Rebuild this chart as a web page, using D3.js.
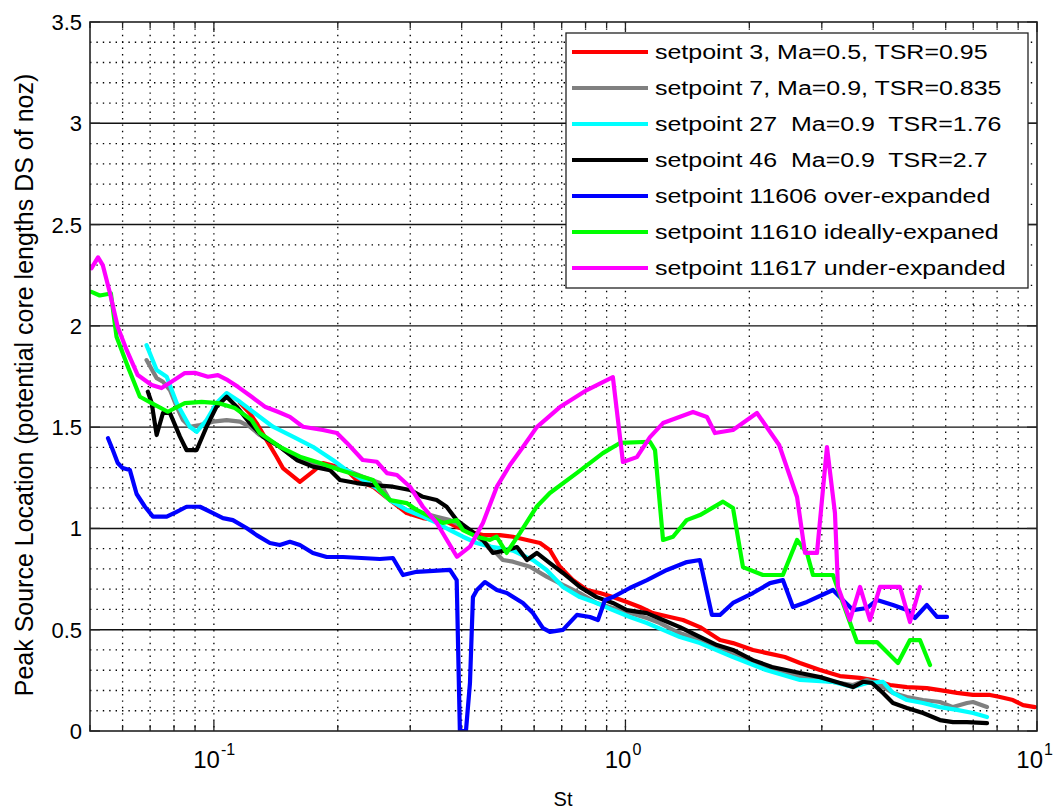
<!DOCTYPE html>
<html>
<head>
<meta charset="utf-8">
<script src="https://cdn.jsdelivr.net/npm/d3@7"></script>
<style>
  body { margin: 0; background: #fff; }
  svg { display: block; }
  text { font-family: "Liberation Sans", Arial, Helvetica, sans-serif; fill: #000; white-space: pre; }
</style>
</head>
<body>
<script>
var w = 1054;
var h = 811;
var plotL = 90, plotT = 22, plotR = 1037, plotB = 731;

// legend text and colours, in legend order
var legendLabels = [
  "setpoint 3, Ma=0.5, TSR=0.95",
  "setpoint 7, Ma=0.9, TSR=0.835",
  "setpoint 27  Ma=0.9  TSR=1.76",
  "setpoint 46  Ma=0.9  TSR=2.7",
  "setpoint 11606 over-expanded",
  "setpoint 11610 ideally-expaned",
  "setpoint 11617 under-expanded"
];
var colors = ["#ff0000", "#808080", "#00ffff", "#000000", "#0000ff", "#00ff00", "#ff00ff"];

// [St, peak source location]
var sp3 = [[0.1157,1.62],[0.1223,1.568],[0.127,1.52],[0.1343,1.436],[0.142,1.354],[0.1471,1.298],[0.1618,1.23],[0.174,1.28],[0.184,1.323],[0.1986,1.305],[0.2102,1.288],[0.2222,1.239],[0.2435,1.206],[0.2677,1.14],[0.294,1.076],[0.322,1.051],[0.3477,1.041],[0.3677,1.033],[0.389,1.008],[0.419,0.984],[0.4505,0.967],[0.495,0.967],[0.5329,0.959],[0.5763,0.943],[0.62,0.928],[0.6553,0.893],[0.693,0.811],[0.745,0.745],[0.806,0.696],[0.867,0.681],[0.932,0.661],[1.008,0.637],[1.084,0.612],[1.166,0.582],[1.282,0.563],[1.38,0.548],[1.517,0.513],[1.697,0.449],[1.825,0.434],[2.041,0.4],[2.44,0.365],[2.655,0.336],[2.97,0.301],[3.32,0.271],[3.71,0.262],[3.996,0.252],[4.395,0.227],[4.831,0.217],[5.4,0.212],[5.81,0.202],[6.39,0.188],[6.99,0.178],[7.69,0.178],[8.13,0.168],[8.74,0.153],[9.25,0.128],[9.89,0.118]];
var sp7 = [[0.0686,1.831],[0.0726,1.742],[0.0752,1.724],[0.0782,1.683],[0.0812,1.601],[0.0841,1.535],[0.0874,1.502],[0.0925,1.51],[0.0995,1.527],[0.1074,1.535],[0.1157,1.527],[0.1223,1.502],[0.1293,1.461],[0.1446,1.403],[0.1556,1.354],[0.174,1.323],[0.1914,1.305],[0.2102,1.288],[0.23,1.255],[0.253,1.224],[0.2677,1.14],[0.294,1.091],[0.322,1.076],[0.3477,1.058],[0.3746,1.041],[0.4029,1.008],[0.435,0.959],[0.4686,0.91],[0.5038,0.844],[0.5329,0.836],[0.586,0.811],[0.6433,0.762],[0.7049,0.721],[0.775,0.681],[0.851,0.632],[0.932,0.607],[1.025,0.582],[1.127,0.558],[1.213,0.533],[1.334,0.489],[1.517,0.449],[1.825,0.385],[2.195,0.316],[2.655,0.266],[3.193,0.242],[3.572,0.227],[3.863,0.252],[4.225,0.217],[4.467,0.188],[4.831,0.168],[5.284,0.153],[5.81,0.143],[6.25,0.118],[6.76,0.138],[6.99,0.143],[7.56,0.118]];
var sp27 = [[0.0686,1.905],[0.0726,1.782],[0.0768,1.749],[0.0812,1.619],[0.0874,1.502],[0.0908,1.477],[0.096,1.535],[0.1015,1.619],[0.1074,1.668],[0.1157,1.625],[0.1244,1.576],[0.1391,1.502],[0.1556,1.453],[0.174,1.403],[0.1946,1.338],[0.2102,1.288],[0.23,1.239],[0.249,1.199],[0.2677,1.14],[0.294,1.091],[0.322,1.058],[0.3477,1.027],[0.3746,0.992],[0.4029,0.959],[0.435,0.928],[0.4686,0.91],[0.5038,0.9],[0.5329,0.89],[0.5961,0.844],[0.6433,0.795],[0.7049,0.711],[0.775,0.661],[0.851,0.632],[0.932,0.597],[1.025,0.563],[1.127,0.533],[1.234,0.499],[1.356,0.464],[1.517,0.434],[1.825,0.365],[2.195,0.301],[2.655,0.252],[3.193,0.242],[3.572,0.217],[3.863,0.237],[4.225,0.243],[4.467,0.188],[4.831,0.153],[5.284,0.138],[5.81,0.118],[6.39,0.104],[6.99,0.089],[7.56,0.069]];
var sp46 = [[0.0691,1.675],[0.0706,1.619],[0.0726,1.461],[0.0752,1.57],[0.0782,1.57],[0.0827,1.453],[0.0858,1.387],[0.0908,1.387],[0.096,1.502],[0.1015,1.601],[0.1074,1.65],[0.1136,1.601],[0.1223,1.52],[0.1316,1.453],[0.1446,1.403],[0.1589,1.338],[0.174,1.305],[0.1914,1.288],[0.2024,1.239],[0.2222,1.224],[0.2435,1.214],[0.2723,1.206],[0.2995,1.19],[0.322,1.156],[0.3477,1.14],[0.3677,1.107],[0.389,1.041],[0.419,0.992],[0.4505,0.943],[0.4764,0.879],[0.515,0.893],[0.545,0.908],[0.5763,0.844],[0.609,0.879],[0.6553,0.829],[0.7049,0.78],[0.775,0.711],[0.851,0.661],[0.932,0.632],[1.008,0.597],[1.127,0.582],[1.234,0.548],[1.356,0.513],[1.517,0.464],[1.669,0.424],[1.825,0.4],[2.041,0.35],[2.27,0.316],[2.655,0.286],[2.97,0.266],[3.32,0.237],[3.572,0.217],[3.776,0.243],[3.972,0.237],[4.225,0.188],[4.467,0.138],[4.831,0.114],[5.284,0.089],[5.81,0.054],[6.25,0.044],[6.76,0.044],[7.56,0.039]];
var sp11606 = [[0.0553,1.445],[0.0568,1.387],[0.0584,1.323],[0.06,1.298],[0.0625,1.288],[0.0649,1.17],[0.068,1.107],[0.0711,1.058],[0.0768,1.058],[0.0812,1.082],[0.0858,1.107],[0.0925,1.107],[0.0995,1.076],[0.1052,1.051],[0.1112,1.041],[0.12,1.002],[0.127,0.967],[0.1368,0.928],[0.1446,0.918],[0.153,0.934],[0.1618,0.918],[0.174,0.879],[0.188,0.859],[0.206,0.859],[0.253,0.849],[0.2723,0.854],[0.288,0.77],[0.311,0.786],[0.3746,0.795],[0.389,0.745],[0.396,0],[0.4097,0],[0.419,0.237],[0.426,0.661],[0.4356,0.696],[0.4555,0.735],[0.487,0.696],[0.515,0.681],[0.5635,0.632],[0.5961,0.582],[0.6303,0.508],[0.6553,0.489],[0.7049,0.499],[0.7624,0.573],[0.8198,0.563],[0.8574,0.548],[0.8918,0.647],[0.932,0.661],[1.025,0.706],[1.128,0.745],[1.261,0.795],[1.41,0.834],[1.517,0.844],[1.622,0.573],[1.697,0.573],[1.825,0.632],[2.041,0.681],[2.245,0.73],[2.413,0.745],[2.553,0.612],[2.761,0.637],[3.193,0.696],[3.32,0.661],[3.572,0.597],[3.863,0.607],[4.085,0.647],[4.467,0.622],[4.831,0.597],[5.05,0.558],[5.4,0.622],[5.715,0.563],[6.045,0.563]];
var sp11610 = [[0.0504,2.168],[0.0528,2.15],[0.0562,2.16],[0.058,1.946],[0.0618,1.798],[0.0661,1.65],[0.0706,1.619],[0.0773,1.576],[0.085,1.619],[0.0934,1.625],[0.1023,1.619],[0.1125,1.594],[0.1235,1.535],[0.1293,1.471],[0.1446,1.403],[0.1618,1.354],[0.181,1.323],[0.2024,1.288],[0.2222,1.264],[0.2435,1.239],[0.253,1.19],[0.2677,1.14],[0.294,1.125],[0.311,1.091],[0.3406,1.051],[0.3601,1.027],[0.389,1.041],[0.4029,0.992],[0.435,0.959],[0.4686,0.943],[0.4864,0.959],[0.5144,0.879],[0.554,0.977],[0.6083,1.107],[0.6553,1.175],[0.7612,1.273],[0.8816,1.372],[0.97,1.422],[1.147,1.428],[1.18,1.387],[1.234,0.943],[1.305,0.959],[1.408,1.041],[1.517,1.066],[1.726,1.132],[1.825,1.101],[1.93,0.809],[2.158,0.77],[2.413,0.77],[2.612,0.943],[2.761,0.879],[2.855,0.77],[3.193,0.77],[3.652,0.439],[4.085,0.439],[4.594,0.336],[4.913,0.449],[5.195,0.449],[5.496,0.326]];
var sp11617 = [[0.0504,2.284],[0.0523,2.338],[0.0537,2.3],[0.0559,2.162],[0.0584,1.994],[0.0614,1.88],[0.0653,1.757],[0.0706,1.708],[0.0746,1.693],[0.0789,1.724],[0.085,1.767],[0.0899,1.768],[0.0967,1.749],[0.1023,1.757],[0.1081,1.732],[0.1144,1.699],[0.1235,1.65],[0.133,1.601],[0.143,1.576],[0.153,1.551],[0.1646,1.502],[0.184,1.486],[0.199,1.471],[0.2105,1.422],[0.23,1.338],[0.249,1.329],[0.2634,1.273],[0.2785,1.264],[0.2995,1.206],[0.322,1.107],[0.348,1.027],[0.3895,0.86],[0.419,0.91],[0.4505,1.027],[0.487,1.206],[0.524,1.313],[0.5635,1.402],[0.609,1.5],[0.693,1.599],[0.806,1.683],[0.932,1.747],[0.986,1.328],[1.066,1.352],[1.147,1.451],[1.234,1.52],[1.459,1.575],[1.578,1.55],[1.65,1.471],[1.825,1.486],[2.087,1.57],[2.363,1.412],[2.612,1.155],[2.731,0.879],[2.92,0.879],[3.088,1.402],[3.229,1.076],[3.284,0.711],[3.513,0.548],[3.715,0.711],[3.928,0.548],[4.154,0.711],[4.646,0.711],[4.913,0.538],[5.195,0.711]];

var seriesData = [sp3, sp7, sp27, sp46, sp11606, sp11610, sp11617];

var yTickValues = [0, 0.5, 1, 1.5, 2, 2.5, 3, 3.5];
var yTickLabels = ["0", "0.5", "1", "1.5", "2", "2.5", "3", "3.5"];
var xLabelTicks = [0.1, 1, 10];
var xLabelExps = ["-1", "0", "1"];

var xScale = d3.scaleLog().domain([0.05, 10]).range([plotL, plotR]);
var yScale = d3.scaleLinear().domain([0, 3.5]).range([plotB, plotT]);

var svg = d3.select("body").append("svg")
  .attr("width", w)
  .attr("height", h)
  .style("background-color", "white");

svg.append("defs").append("clipPath").attr("id", "plotclip")
  .append("rect")
  .attr("x", plotL).attr("y", plotT)
  .attr("width", plotR - plotL).attr("height", plotB - plotT);

// grid
var xGrid = xScale.ticks().filter(function(d){ return d > 0.05 && d < 10; });
svg.append("g").selectAll("line")
  .data(xGrid)
  .join("line")
  .attr("x1", function(d){ return xScale(d); })
  .attr("x2", function(d){ return xScale(d); })
  .attr("y1", plotT).attr("y2", plotB)
  .attr("stroke", "#000").attr("stroke-width", 1.3)
  .attr("stroke-dasharray", "1.4,5");

var yMinor = d3.range(1, 35).map(function(i){ return i / 10; })
  .filter(function(d){ return Math.round(d * 10) % 5 !== 0; });
svg.append("g").selectAll("line")
  .data(yMinor)
  .join("line")
  .attr("x1", plotL).attr("x2", plotR)
  .attr("y1", function(d){ return yScale(d); })
  .attr("y2", function(d){ return yScale(d); })
  .attr("stroke", "#000").attr("stroke-width", 1.3)
  .attr("stroke-dasharray", "1.4,5");

svg.append("g").selectAll("line")
  .data(yTickValues.slice(1, -1))
  .join("line")
  .attr("x1", plotL).attr("x2", plotR)
  .attr("y1", function(d){ return yScale(d); })
  .attr("y2", function(d){ return yScale(d); })
  .attr("stroke", "#111").attr("stroke-width", 1.4);

// ticks
var tickG = svg.append("g").attr("stroke", "#222").attr("stroke-width", 1.3);
xScale.ticks().forEach(function(d){
  var len = xLabelTicks.indexOf(d) >= 0 ? 10 : 6;
  tickG.append("line").attr("x1", xScale(d)).attr("x2", xScale(d))
    .attr("y1", plotB).attr("y2", plotB - len);
  tickG.append("line").attr("x1", xScale(d)).attr("x2", xScale(d))
    .attr("y1", plotT).attr("y2", plotT + len);
});
yTickValues.forEach(function(d){
  tickG.append("line").attr("x1", plotL).attr("x2", plotL + 10)
    .attr("y1", yScale(d)).attr("y2", yScale(d));
  tickG.append("line").attr("x1", plotR).attr("x2", plotR - 10)
    .attr("y1", yScale(d)).attr("y2", yScale(d));
});

// series
var line = d3.line()
  .x(function(d){ return xScale(d[0]); })
  .y(function(d){ return yScale(d[1]); });

svg.append("g").attr("clip-path", "url(#plotclip)")
  .selectAll("path")
  .data(seriesData)
  .join("path")
  .attr("d", line)
  .attr("fill", "none")
  .attr("stroke", function(d, i){ return colors[i]; })
  .attr("stroke-width", 4.2)
  .attr("stroke-linejoin", "round")
  .attr("stroke-linecap", "round");

// frame
svg.append("rect")
  .attr("x", plotL).attr("y", plotT)
  .attr("width", plotR - plotL).attr("height", plotB - plotT)
  .attr("fill", "none").attr("stroke", "#222").attr("stroke-width", 1.6);

// tick labels
svg.append("g").selectAll("text")
  .data(yTickValues)
  .join("text")
  .attr("x", plotL - 8)
  .attr("y", function(d){ return yScale(d) + 8; })
  .attr("text-anchor", "end")
  .style("font-size", "22px")
  .text(function(d, i){ return yTickLabels[i]; });

xLabelTicks.forEach(function(d, i){
  svg.append("text")
    .attr("x", xScale(d) + 6).attr("y", 768)
    .attr("text-anchor", "end")
    .style("font-size", "24px")
    .text("10");
  svg.append("text")
    .attr("x", xScale(d) + 7).attr("y", 755)
    .attr("text-anchor", "start")
    .style("font-size", "16px")
    .text(xLabelExps[i]);
});

// axis labels
svg.append("text")
  .attr("x", 563).attr("y", 806)
  .attr("text-anchor", "middle")
  .style("font-size", "20px")
  .text("St");

svg.append("text")
  .attr("transform", "translate(33,385) rotate(-90)")
  .attr("text-anchor", "middle")
  .style("font-size", "25px")
  .text("Peak Source Location (potential core lengths DS of noz)");

// legend
var lg = svg.append("g");
lg.append("rect")
  .attr("x", 566).attr("y", 33)
  .attr("width", 462).attr("height", 255)
  .attr("fill", "white").attr("stroke", "#222").attr("stroke-width", 1.3);

var rows = lg.selectAll("g.row")
  .data(legendLabels)
  .join("g")
  .attr("class", "row")
  .attr("transform", function(d, i){ return "translate(0," + (52 + i * 36) + ")"; });

rows.append("line")
  .attr("x1", 572).attr("x2", 648)
  .attr("y1", 0).attr("y2", 0)
  .attr("stroke", function(d, i){ return colors[i]; })
  .attr("stroke-width", 4.2);

rows.append("text")
  .attr("x", 655).attr("y", 7)
  .style("font-size", "19.5px")
  .text(function(d){ return d; })
  .each(function(){
    var len = this.getComputedTextLength();
    d3.select(this).attr("textLength", len * 1.28).attr("lengthAdjust", "spacingAndGlyphs");
  });
</script>
</body>
</html>
